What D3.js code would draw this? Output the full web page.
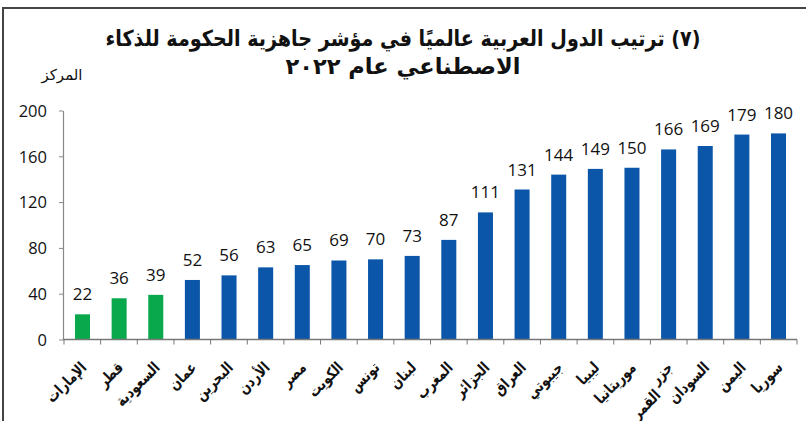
<!DOCTYPE html>
<html>
<head>
<meta charset="utf-8">
<script src="https://cdn.jsdelivr.net/npm/d3@7"></script>
<style>
  html, body { margin: 0; padding: 0; background: #fff; }
</style>
</head>
<body>
<div id="chart"></div>
<script>
(function () {

  // data --------------------------------------------------------
  const COUNTRIES = ["الإمارات", "قطر", "السعودية", "عمان", "البحرين", "الأردن", "مصر", "الكويت", "تونس", "لبنان",
                     "المغرب", "الجزائر", "العراق", "جيبوتي", "ليبيا", "موريتانيا", "جزر القمر", "السودان", "اليمن", "سوريا"];
  const RANKS = [22, 36, 39, 52, 56, 63, 65, 69, 70, 73, 87, 111, 131, 144, 149, 150, 166, 169, 179, 180];
  const HIGHLIGHT = ["الإمارات", "قطر", "السعودية"];
  const Y_TICKS = [0, 40, 80, 120, 160, 200];
  const TITLE = ["(٧) ترتيب الدول العربية عالميًا في مؤشر جاهزية الحكومة للذكاء", "الاصطناعي عام ٢٠٢٢"];
  const Y_LABEL = "المركز";

  const data = COUNTRIES.map((c, i) => ({ country: c, rank: RANKS[i] }));

  const W = 806, H = 421;
  const ARABIC = "'DejaVu Sans', sans-serif";
  const NUM = "'Open Sans', 'Liberation Sans', sans-serif";

  const svg = d3.select("#chart").append("svg")
    .attr("width", W)
    .attr("height", H);

  // frame (top + left only)
  svg.append("path")
    .attr("d", `M3,${H} L3,8 L${W},8`)
    .attr("fill", "none")
    .attr("stroke", "#444")
    .attr("stroke-width", 2);

  // title
  const titleWidths = [595, 235];
  svg.selectAll("text.title")
    .data(TITLE)
    .enter()
    .append("text")
    .attr("class", "title")
    .attr("x", 403)
    .attr("y", (d, i) => 46 + i * 28)
    .attr("text-anchor", "middle")
    .attr("direction", "rtl")
    .attr("textLength", (d, i) => titleWidths[i])
    .attr("lengthAdjust", "spacingAndGlyphs")
    .style("font-family", ARABIC)
    .style("font-weight", 700)
    .style("font-size", "22px")
    .style("fill", "#111")
    .text(d => d);

  svg.append("text")
    .attr("x", 62)
    .attr("y", 80)
    .attr("text-anchor", "middle")
    .style("font-family", ARABIC)
    .style("font-size", "15px")
    .style("fill", "#111")
    .text(Y_LABEL);

  // scales ------------------------------------------------------
  const x = d3.scaleBand()
    .domain(COUNTRIES)
    .range([64, 797])
    .paddingInner(0.59)
    .paddingOuter(0.3);

  const y = d3.scaleLinear()
    .domain([0, 200])
    .range([339.5, 110.5]);

  // y axis
  const yAxis = svg.append("g")
    .attr("transform", "translate(63,0)")
    .call(d3.axisLeft(y).tickValues(Y_TICKS).tickSize(4).tickPadding(12).tickSizeOuter(0));
  yAxis.select(".domain").attr("stroke", "#888").attr("stroke-width", 1.2);
  yAxis.selectAll(".tick line").attr("stroke", "#888");
  yAxis.selectAll(".tick text")
    .style("font-family", NUM)
    .style("font-size", "16.5px")
    .style("fill", "#111")
    .attr("dy", "0.35em");

  // bars
  svg.append("g")
    .selectAll("rect")
    .data(data)
    .enter()
    .append("rect")
    .attr("x", d => x(d.country))
    .attr("width", x.bandwidth())
    .attr("y", d => y(d.rank))
    .attr("height", d => y(0) - y(d.rank))
    .attr("fill", d => HIGHLIGHT.includes(d.country) ? "#0aa84c" : "#0b56a8");

  // x axis: separator ticks between bands
  const edges = d3.range(COUNTRIES.length + 1).map(i => 64 + i * (797 - 64) / COUNTRIES.length);
  const xAxis = svg.append("g");
  xAxis.append("line")
    .attr("x1", 63).attr("x2", 797)
    .attr("y1", y(0)).attr("y2", y(0))
    .attr("stroke", "#777")
    .attr("stroke-width", 1.5);
  xAxis.selectAll("line.sep")
    .data(edges)
    .enter()
    .append("line")
    .attr("class", "sep")
    .attr("x1", d => d).attr("x2", d => d)
    .attr("y1", y(0)).attr("y2", y(0) + 5)
    .attr("stroke", "#777");

  // value labels
  svg.append("g")
    .selectAll("text")
    .data(data)
    .enter()
    .append("text")
    .attr("x", d => x(d.country) + x.bandwidth() / 2)
    .attr("y", d => y(d.rank) - 14)
    .attr("text-anchor", "middle")
    .style("font-family", NUM)
    .style("font-size", "17px")
    .style("fill", "#111")
    .text(d => d.rank);

  // category labels, rotated (squeezed along the baseline)
  const labels = svg.append("g")
    .selectAll("g")
    .data(data)
    .enter()
    .append("g")
    .attr("transform", d => `translate(${x(d.country) + x.bandwidth() / 2 + 5},${y(0) + 29}) rotate(-45) scale(0.8,1)`);

  labels.append("text")
    .attr("text-anchor", "end")
    .style("font-family", ARABIC)
    .style("font-weight", 700)
    .style("font-size", "15.5px")
    .style("fill", "#111")
    .each(function (d) {
      const parts = d.country === "جزر القمر" ? ["جزر", "القمر"] : [d.country];
      const t = d3.select(this);
      parts.forEach((p, i) => {
        t.append("tspan")
          .attr("x", i === 0 ? 0 : -35)
          .attr("dy", i === 0 ? 0 : 11)
          .text(p);
      });
    });

})();
</script>
</body>
</html>
